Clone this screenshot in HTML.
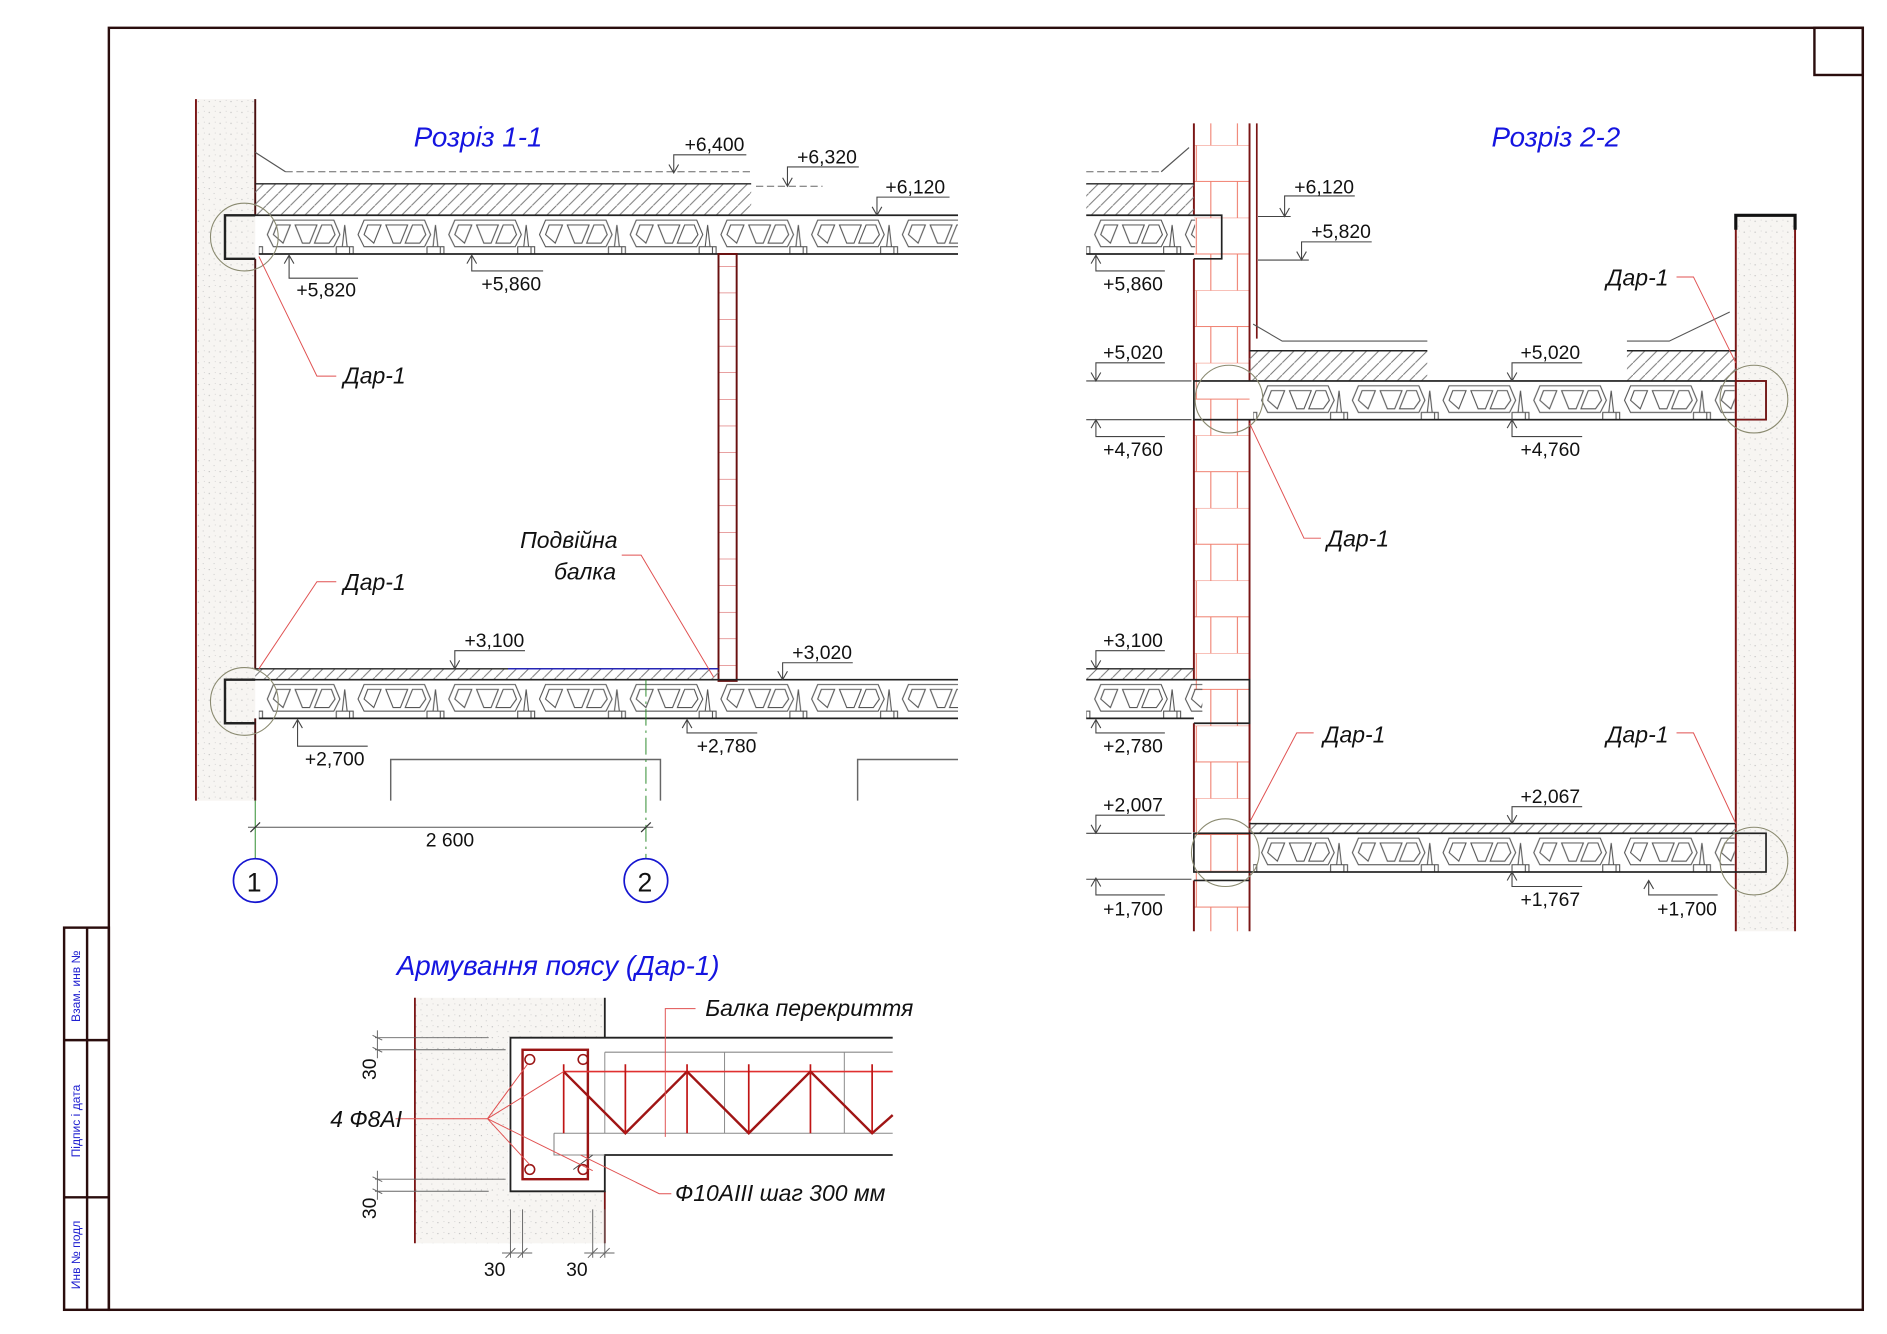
<!DOCTYPE html>
<html><head><meta charset="utf-8"><style>
html,body{margin:0;padding:0;background:#fff;}
svg{display:block;}
text{font-family:"Liberation Sans","DejaVu Sans",sans-serif;}
.lv{font-size:16px;fill:#111;}
.lb{font-size:19px;font-style:italic;fill:#111;}
.tt{font-size:23px;font-style:italic;fill:#1515e0;}
</style></head><body>
<svg width="1887" height="1334" viewBox="0 0 1560 1103" preserveAspectRatio="none" xmlns="http://www.w3.org/2000/svg">
<defs>
<pattern id="st" width="9" height="9" patternUnits="userSpaceOnUse">
<rect width="9" height="9" fill="#f7f5f2"/>
<circle cx="2" cy="3" r="0.5" fill="#bbb"/><circle cx="6" cy="7" r="0.5" fill="#ccc"/><circle cx="7" cy="2" r="0.4" fill="#c8c8c8"/>
</pattern>
<pattern id="ht" width="10" height="10" patternUnits="userSpaceOnUse">
<path d="M-2,12 L12,-2" stroke="#777" stroke-width="0.8"/>
</pattern>
<pattern id="br" width="46" height="60" patternUnits="userSpaceOnUse">
<path d="M0,0H46M0,30H46M23,0V30M11,30V60M35,30V60" stroke="#f08070" stroke-width="0.9" fill="none"/>
</pattern>
<pattern id="br2" width="14" height="22" patternUnits="userSpaceOnUse">
<path d="M0,0H14" stroke="#d04040" stroke-width="0.8"/>
</pattern>
<pattern id="jo" width="75" height="32" patternUnits="userSpaceOnUse">
<g fill="none" stroke="#555" stroke-width="0.9">
<polygon points="12,4 62,4 67,16 62,26 12,26 7,16"/>
<polygon points="15,8 26,8 20,23 12,16"/>
<polygon points="30,8 48,8 42,23 36,23"/>
<polygon points="52,8 60,8 63,16 58,23 46,23"/>
<path d="M69,26 L71,8 L73,26"/>
<rect x="64" y="26" width="11" height="6"/>
<rect x="0" y="26" width="3" height="6"/>
</g>
</pattern>
</defs>
<rect width="1560" height="1103" fill="#fff"/>
<!-- frame -->
<g stroke="#2a0d0d" stroke-width="2" fill="none">
<rect x="90" y="23" width="1450" height="1060"/>
<rect x="1500" y="23" width="40" height="39"/>
<rect x="53" y="767" width="37" height="316"/>
<line x1="72" y1="767" x2="72" y2="1083"/>
<line x1="53" y1="860" x2="90" y2="860"/>
<line x1="53" y1="990" x2="90" y2="990"/>
</g>
<g font-size="10" fill="#2020d0">
<text transform="translate(66,845) rotate(-90)">Взам. инв №</text>
<text transform="translate(66,957) rotate(-90)">Підпис і дата</text>
<text transform="translate(66,1066) rotate(-90)">Инв № подл</text>
</g>

<!-- ================= SECTION 1-1 ================= -->
<rect x="162" y="82" width="49" height="580" fill="url(#st)"/>
<line x1="162" y1="82" x2="162" y2="662" stroke="#7a1515" stroke-width="1.6"/>
<line x1="211" y1="82" x2="211" y2="178" stroke="#4a1010" stroke-width="1.6"/>
<line x1="211" y1="214" x2="211" y2="553" stroke="#4a1010" stroke-width="1.6"/>
<line x1="211" y1="594" x2="211" y2="662" stroke="#4a1010" stroke-width="1.6"/>
<text class="tt" x="342" y="121">Розріз 1-1</text>
<path d="M211,126 L236,142" stroke="#555" fill="none"/>
<line x1="236" y1="142" x2="620" y2="142" stroke="#666" stroke-dasharray="6,3" stroke-width="0.9"/>
<line x1="625" y1="154" x2="680" y2="154" stroke="#666" stroke-dasharray="6,3" stroke-width="0.9"/>
<rect x="211" y="152" width="410" height="26" fill="url(#ht)"/>
<line x1="211" y1="152" x2="621" y2="152" stroke="#222" stroke-width="1.2"/>
<g transform="translate(214,178)"><rect width="578" height="32" fill="url(#jo)"/></g>
<line x1="186" y1="178" x2="792" y2="178" stroke="#222" stroke-width="1.4"/>
<line x1="214" y1="210" x2="792" y2="210" stroke="#222" stroke-width="1.4"/>
<path d="M211,178 H186 V214 H211" fill="none" stroke="#222" stroke-width="2"/>
<circle cx="202" cy="196" r="28" fill="none" stroke="#8a8a70" stroke-width="0.9"/>
<rect x="594" y="210" width="15" height="343" fill="url(#br2)"/>
<rect x="594" y="210" width="15" height="353" fill="none" stroke="#6a1010" stroke-width="1.6"/>
<rect x="211" y="553" width="383" height="9" fill="url(#ht)"/>
<line x1="211" y1="553" x2="594" y2="553" stroke="#222" stroke-width="1.2"/>
<line x1="420" y1="553" x2="594" y2="553" stroke="#2020c0" stroke-width="1.2"/>
<g transform="translate(214,562)"><rect width="578" height="32" fill="url(#jo)"/></g>
<line x1="186" y1="562" x2="792" y2="562" stroke="#222" stroke-width="1.4"/>
<line x1="214" y1="594" x2="792" y2="594" stroke="#222" stroke-width="1.4"/>
<path d="M211,562 H186 V598 H211" fill="none" stroke="#222" stroke-width="2"/>
<circle cx="202" cy="580" r="28" fill="none" stroke="#8a8a70" stroke-width="0.9"/>
<path d="M323,662 V628 H546 V662 M709,662 V628 H792" fill="none" stroke="#666" stroke-width="1.2"/>
<line x1="211" y1="662" x2="211" y2="710" stroke="#2a8a2a" stroke-width="0.8"/>
<line x1="534" y1="562" x2="534" y2="710" stroke="#2a8a2a" stroke-width="0.8" stroke-dasharray="14,4,2,4"/>
<line x1="205" y1="684" x2="540" y2="684" stroke="#555" stroke-width="0.9"/>
<path d="M207,688 L215,680 M530,688 L538,680" stroke="#333"/>
<text class="lv" x="352" y="700">2 600</text>
<circle cx="211" cy="728" r="18" fill="none" stroke="#1515d0" stroke-width="1.4"/>
<circle cx="534" cy="728" r="18" fill="none" stroke="#1515d0" stroke-width="1.4"/>
<text x="204" y="737" font-size="22" fill="#111">1</text>
<text x="527" y="737" font-size="22" fill="#111">2</text>
<g stroke="#444" stroke-width="0.9" fill="none">
<path d="M617,128 H557 V142 M553,136 L557,143 L561,136"/>
<path d="M710,138 H651 V153 M647,147 L651,154 L655,147"/>
<path d="M785,163 H725 V177 M721,171 L725,178 L729,171"/>
<path d="M296,230 H239 V212 M235,218 L239,211 L243,218"/>
<path d="M449,224 H390 V212 M386,218 L390,211 L394,218"/>
<path d="M434,538 H376 V552 M372,546 L376,553 L380,546"/>
<path d="M705,548 H647 V561 M643,555 L647,562 L651,555"/>
<path d="M304,617 H246 V596 M242,602 L246,595 L250,602"/>
<path d="M626,606 H568 V596 M564,602 L568,595 L572,602"/>
</g>
<text class="lv" x="566" y="125">+6,400</text>
<text class="lv" x="659" y="135">+6,320</text>
<text class="lv" x="732" y="160">+6,120</text>
<text class="lv" x="245" y="245">+5,820</text>
<text class="lv" x="398" y="240">+5,860</text>
<text class="lv" x="384" y="535">+3,100</text>
<text class="lv" x="655" y="545">+3,020</text>
<text class="lv" x="252" y="633">+2,700</text>
<text class="lv" x="576" y="622">+2,780</text>
<g stroke="#e05050" stroke-width="0.8" fill="none">
<path d="M214,212 L262,311 H278"/>
<path d="M214,553 L262,481 H278"/>
<path d="M514,459 H530 L590,560"/>
</g>
<text class="lb" x="284" y="317">Дар-1</text>
<text class="lb" x="284" y="488">Дар-1</text>
<text class="lb" x="430" y="453">Подвійна</text>
<text class="lb" x="458" y="479">балка</text>

<!-- ================= SECTION 2-2 ================= -->
<text class="tt" x="1233" y="121">Розріз 2-2</text>
<rect x="987" y="102" width="46" height="668" fill="url(#br)"/>
<line x1="987" y1="102" x2="987" y2="178" stroke="#7a1515" stroke-width="1.6"/>
<line x1="987" y1="214" x2="987" y2="315" stroke="#7a1515" stroke-width="1.6"/>
<line x1="987" y1="347" x2="987" y2="562" stroke="#7a1515" stroke-width="1.6"/>
<line x1="987" y1="598" x2="987" y2="688" stroke="#7a1515" stroke-width="1.6"/>
<line x1="987" y1="728" x2="987" y2="770" stroke="#7a1515" stroke-width="1.6"/>
<line x1="1033" y1="102" x2="1033" y2="315" stroke="#7a1515" stroke-width="1.6"/>
<line x1="1039" y1="102" x2="1039" y2="280" stroke="#7a1515" stroke-width="1.4"/>
<line x1="1033" y1="347" x2="1033" y2="770" stroke="#7a1515" stroke-width="1.6"/>
<rect x="1435" y="178" width="49" height="592" fill="url(#st)"/>
<line x1="1435" y1="178" x2="1435" y2="770" stroke="#7a1515" stroke-width="1.6"/>
<line x1="1484" y1="178" x2="1484" y2="770" stroke="#7a1515" stroke-width="1.6"/>
<path d="M1435,190 V178 H1484 V190" stroke="#111" stroke-width="2.6" fill="none"/>
<line x1="898" y1="142" x2="960" y2="142" stroke="#666" stroke-dasharray="6,3" stroke-width="0.9"/>
<path d="M960,142 L983,122" stroke="#555" fill="none"/>
<rect x="898" y="152" width="89" height="26" fill="url(#ht)"/>
<line x1="898" y1="152" x2="987" y2="152" stroke="#222" stroke-width="1.2"/>
<g transform="translate(898,178)"><rect width="90" height="32" fill="url(#jo)"/></g>
<path d="M898,178 H1010 V214 H987 M898,210 H987" fill="none" stroke="#222" stroke-width="1.4"/>
<path d="M1036,268 L1060,282 H1180 M1345,282 H1380 L1430,258" stroke="#555" fill="none" stroke-width="0.9"/>
<rect x="1033" y="290" width="147" height="25" fill="url(#ht)"/>
<rect x="1345" y="290" width="90" height="25" fill="url(#ht)"/>
<line x1="1033" y1="290" x2="1180" y2="290" stroke="#222" stroke-width="1.2"/>
<line x1="1345" y1="290" x2="1435" y2="290" stroke="#222" stroke-width="1.2"/>
<g transform="translate(1036,315)"><rect width="398" height="32" fill="url(#jo)"/></g>
<rect x="987" y="315" width="473" height="32" fill="none" stroke="#222" stroke-width="1.4"/>
<rect x="1435" y="315" width="25" height="32" fill="none" stroke="#7a1515" stroke-width="1.4"/>
<circle cx="1016" cy="330" r="28" fill="none" stroke="#8a8a70" stroke-width="0.9"/>
<circle cx="1450" cy="330" r="28" fill="none" stroke="#8a8a70" stroke-width="0.9"/>
<rect x="898" y="553" width="89" height="9" fill="url(#ht)"/>
<line x1="898" y1="553" x2="987" y2="553" stroke="#222" stroke-width="1.2"/>
<g transform="translate(898,562)"><rect width="96" height="32" fill="url(#jo)"/></g>
<path d="M898,562 H1033 V598 H987 M898,594 H987" fill="none" stroke="#222" stroke-width="1.4"/>
<rect x="1033" y="681" width="402" height="8" fill="url(#ht)"/>
<line x1="1033" y1="681" x2="1435" y2="681" stroke="#222" stroke-width="1.2"/>
<g transform="translate(1036,689)"><rect width="398" height="32" fill="url(#jo)"/></g>
<rect x="987" y="689" width="473" height="32" fill="none" stroke="#222" stroke-width="1.4"/>
<line x1="987" y1="728" x2="1033" y2="728" stroke="#222" stroke-width="1.4"/>
<circle cx="1013" cy="705" r="28" fill="none" stroke="#8a8a70" stroke-width="0.9"/>
<circle cx="1450" cy="712" r="28" fill="none" stroke="#8a8a70" stroke-width="0.9"/>
<g stroke="#444" stroke-width="0.9" fill="none">
<path d="M1120,162 H1062 V178 M1058,172 L1062,179 L1066,172 M1040,179 H1067"/>
<path d="M1134,200 H1076 V214 M1072,208 L1076,215 L1080,208 M1040,215 H1082"/>
<path d="M963,224 H906 V212 M902,218 L906,211 L910,218"/>
<path d="M963,300 H906 V314 M902,308 L906,315 L910,308 M898,315 H985"/>
<path d="M963,361 H906 V348 M902,354 L906,347 L910,354 M898,347 H985"/>
<path d="M1308,300 H1250 V314 M1246,308 L1250,315 L1254,308"/>
<path d="M1308,361 H1250 V348 M1246,354 L1250,347 L1254,354"/>
<path d="M963,538 H906 V552 M902,546 L906,553 L910,546"/>
<path d="M963,606 H906 V596 M902,602 L906,595 L910,602"/>
<path d="M963,674 H906 V688 M902,682 L906,689 L910,682 M898,689 H985"/>
<path d="M963,740 H906 V727 M902,733 L906,726 L910,733 M898,727 H985"/>
<path d="M1308,667 H1250 V680 M1246,674 L1250,681 L1254,674"/>
<path d="M1308,733 H1250 V722 M1246,728 L1250,721 L1254,728"/>
<path d="M1420,740 H1363 V729 M1359,735 L1363,728 L1367,735"/>
</g>
<text class="lv" x="1070" y="160">+6,120</text>
<text class="lv" x="1084" y="197">+5,820</text>
<text class="lv" x="912" y="240">+5,860</text>
<text class="lv" x="912" y="297">+5,020</text>
<text class="lv" x="912" y="377">+4,760</text>
<text class="lv" x="1257" y="297">+5,020</text>
<text class="lv" x="1257" y="377">+4,760</text>
<text class="lv" x="912" y="535">+3,100</text>
<text class="lv" x="912" y="622">+2,780</text>
<text class="lv" x="912" y="671">+2,007</text>
<text class="lv" x="912" y="757">+1,700</text>
<text class="lv" x="1257" y="664">+2,067</text>
<text class="lv" x="1257" y="749">+1,767</text>
<text class="lv" x="1370" y="757">+1,700</text>
<g stroke="#e05050" stroke-width="0.8" fill="none">
<path d="M1386,229 H1400 L1435,300"/>
<path d="M1033,350 L1078,445 H1092"/>
<path d="M1086,606 H1072 L1033,680"/>
<path d="M1386,606 H1400 L1435,681"/>
</g>
<text class="lb" x="1328" y="236">Дар-1</text>
<text class="lb" x="1097" y="452">Дар-1</text>
<text class="lb" x="1094" y="614">Дар-1</text>
<text class="lb" x="1328" y="614">Дар-1</text>

<!-- ================= DETAIL ================= -->
<text class="tt" x="328" y="806">Армування поясу (Дар-1)</text>
<rect x="343" y="825" width="77" height="203" fill="url(#st)"/>
<rect x="420" y="985" width="80" height="43" fill="url(#st)"/>
<rect x="420" y="825" width="80" height="33" fill="url(#st)"/>
<line x1="343" y1="825" x2="343" y2="1028" stroke="#7a1515" stroke-width="1.5"/>
<line x1="500" y1="985" x2="500" y2="1028" stroke="#7a1515" stroke-width="1.5"/>
<line x1="500" y1="825" x2="500" y2="858" stroke="#222" stroke-width="1.5"/>
<path d="M500,858 H422 V985 H500 V955 H738 M500,858 H738" fill="none" stroke="#222" stroke-width="1.5"/>
<line x1="500" y1="870" x2="738" y2="870" stroke="#888" stroke-width="0.9"/>
<path d="M500,870 V937 M599,870 V937 M698,870 V937" stroke="#888" stroke-width="0.8"/>
<path d="M458,937 H738 M458,937 V955 H500" fill="none" stroke="#888" stroke-width="0.9"/>
<rect x="432" y="868" width="54" height="107" fill="none" stroke="#9a1515" stroke-width="2"/>
<g fill="none" stroke="#9a1515" stroke-width="1.3">
<circle cx="438" cy="876" r="4"/><circle cx="482" cy="876" r="4"/>
<circle cx="438" cy="967" r="4"/><circle cx="482" cy="967" r="4"/>
</g>
<line x1="466" y1="886" x2="738" y2="886" stroke="#e03030" stroke-width="1.4"/>
<polyline points="466,886 517,937 568,886 619,937 670,886 721,937 738,922" fill="none" stroke="#a01515" stroke-width="2"/>
<path d="M466,880 V937 M517,880 V937 M568,880 V937 M619,880 V937 M670,880 V937 M721,880 V937" stroke="#c01515" stroke-width="1.4"/>
<path d="M474,967 L490,955" stroke="#444" stroke-width="0.8"/>
<g stroke="#e05050" stroke-width="0.8" fill="none">
<path d="M327,925 H403 L436,880 M403,925 L466,886 M403,925 L438,963 M403,925 L490,968"/>
<path d="M550,940 V834 H575"/>
<path d="M480,955 L545,987 H555"/>
</g>
<text class="lb" x="583" y="840" font-size="16">Балка перекриття</text>
<text class="lb" x="273" y="932" font-size="16">4 Ф8АІ</text>
<text class="lb" x="558" y="993" font-size="16">Ф10АІІІ шаг 300 мм</text>
<g stroke="#666" stroke-width="0.8">
<path d="M310,858 H404 M310,868 H418 M312,852 V875 M308,856 L316,860 M308,866 L316,870"/>
<path d="M310,975 H418 M310,985 H404 M312,968 V992 M308,973 L316,977 M308,983 L316,987"/>
<path d="M422,1000 V1040 M432,1000 V1040 M415,1036 H440 M418,1040 L426,1032 M428,1040 L436,1032"/>
<path d="M490,1000 V1040 M500,1000 V1040 M483,1036 H508 M486,1040 L494,1032 M496,1040 L504,1032"/>
</g>
<text class="lv" transform="translate(311,893) rotate(-90)">30</text>
<text class="lv" transform="translate(311,1008) rotate(-90)">30</text>
<text class="lv" x="400" y="1055">30</text>
<text class="lv" x="468" y="1055">30</text>
</svg>
</body></html>
